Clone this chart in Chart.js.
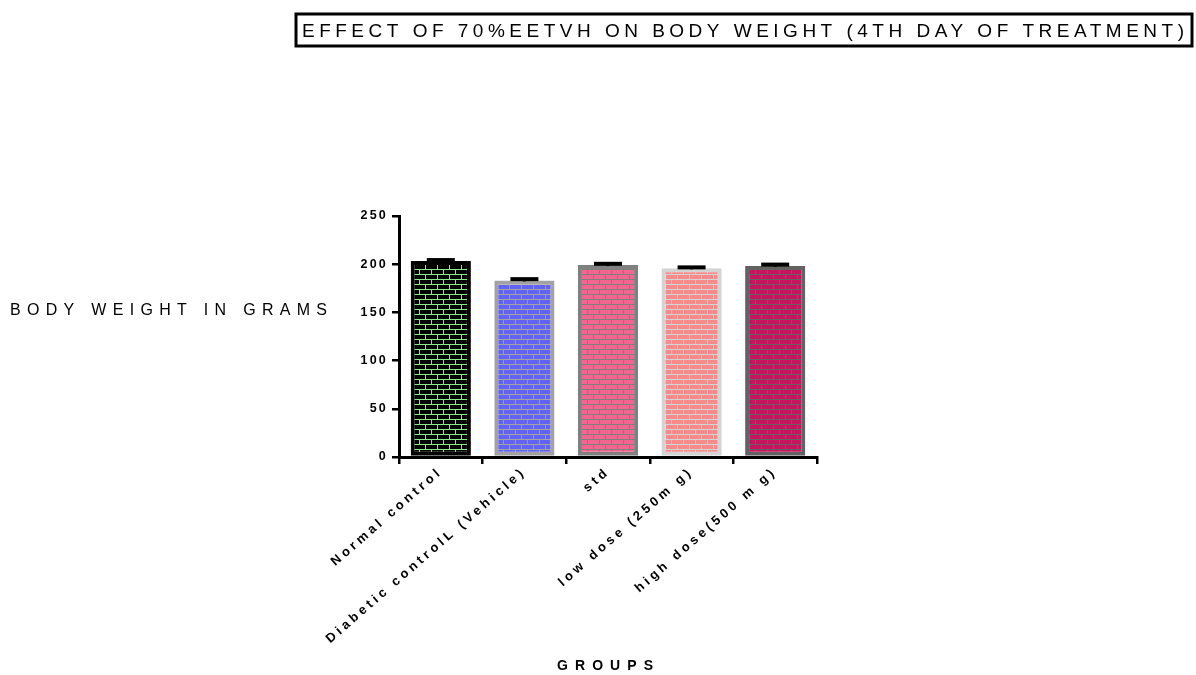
<!DOCTYPE html>
<html>
<head>
<meta charset="utf-8">
<script src="https://cdn.jsdelivr.net/npm/chart.js@4.4.1/dist/chart.umd.min.js"></script>
<style>
 body { margin: 0; background: #fff; }
 canvas { display: block; }
</style>
</head>
<body>
<canvas id="bw-chart" width="1196" height="675"></canvas>
<script>
// Groups and mean body weight (g) on the 4th day, with SEM
const groups = ["Normal control", "Diabetic controlL (Vehicle)", "std", "low dose (250m g)", "high dose(500 m g)"];
const meanWeight = [203.3, 183.2, 199.1, 195.7, 198.1];
const semWeight = [1.0, 1.3, 1.3, 1.0, 1.5];
const yTicks = [0, 50, 100, 150, 200, 250];

// brick colours: [brick, mortar] and bar outline
const brickColors = [["#000000", "#86ec86"], ["#6262f4", "#a2a2a2"], ["#f2658f", "#808080"], ["#f98a8a", "#d4d4d4"], ["#c8145f", "#626262"]];
const outlineColors = ["#000000", "#a2a2a2", "#808080", "#d4d4d4", "#626262"];

const FONT = "'Liberation Sans', Arial, sans-serif";
const NARROW = "'Liberation Sans Narrow', 'Arial Narrow', 'Liberation Sans', sans-serif";

// little brick tile used as a fill pattern
function brickPattern(brick, mortar) {
 const c = document.createElement("canvas");
 c.width = 12;
 c.height = 10;
 const g = c.getContext("2d");
 g.fillStyle = mortar;
 g.fillRect(0, 0, 12, 10);
 g.fillStyle = brick;
 g.fillRect(0, 0, 11, 4);
 g.fillRect(6, 5, 11, 4);
 g.fillRect(-6, 5, 11, 4);
 return g.createPattern(c, "repeat");
}

// text spread out to a given width
function spacedText(ctx, text, font, x, y, width) {
 ctx.save();
 ctx.font = font;
 ctx.letterSpacing = "0px";
 const w = ctx.measureText(text).width;
 ctx.letterSpacing = ((width - w) / (text.length - 1)) + "px";
 ctx.fillStyle = "#000";
 ctx.textAlign = "left";
 ctx.textBaseline = "alphabetic";
 ctx.fillText(text, x, y);
 ctx.restore();
}

const errorBars = {
 id: "errorBars",
 afterDatasetsDraw(chart) {
  const ctx = chart.ctx;
  const y = chart.scales.y;
  chart.getDatasetMeta(0).data.forEach((bar, i) => {
   const top = y.getPixelForValue(meanWeight[i] + semWeight[i]);
   ctx.save();
   ctx.fillStyle = "#000";
   ctx.fillRect(bar.x - 1.5, top, 3, bar.y - top + 1);
   ctx.fillRect(bar.x - 14, top - 2, 28, 4);
   ctx.restore();
  });
 },
};

const decorations = {
 id: "decorations",
 afterLayout(chart) {
  // wider letter spacing on the tick labels
  ["x", "y"].forEach((id) => {
   const s = chart.scales[id];
   if (s._spaced) return;
   const draw = s.drawLabels.bind(s);
   s.drawLabels = (area) => {
    chart.ctx.save();
    chart.ctx.letterSpacing = id === "x" ? "3.6px" : "2.2px";
    draw(area);
    chart.ctx.restore();
   };
   s._spaced = true;
  });
 },
 afterDraw(chart) {
  const ctx = chart.ctx;
  ctx.save();
  ctx.strokeStyle = "#000";
  ctx.lineWidth = 3;
  ctx.strokeRect(296, 14, 896, 32);
  ctx.restore();
  spacedText(ctx, "EFFECT OF 70%EETVH ON BODY WEIGHT (4TH DAY OF TREATMENT)", "19px " + NARROW, 302, 37, 882);
  spacedText(ctx, "BODY WEIGHT IN GRAMS", "16px " + FONT, 10, 315, 317);
  spacedText(ctx, "GROUPS", "bold 14px " + FONT, 557, 670, 96);
 },
};

const chart = new Chart(document.getElementById("bw-chart"), {
 type: "bar",
 data: {
  labels: groups,
  datasets: [{
   data: meanWeight,
   backgroundColor: brickColors.map(([b, m]) => brickPattern(b, m)),
   borderColor: outlineColors,
   borderWidth: 4,
   borderSkipped: false,
   categoryPercentage: 1,
   barPercentage: 0.72,
  }],
 },
 options: {
  responsive: false,
  animation: false,
  layout: { padding: { top: 216, right: 379, bottom: 0, left: 0 } },
  plugins: { legend: { display: false }, tooltip: { enabled: false } },
  scales: {
   x: {
    grid: { drawOnChartArea: false, drawTicks: true, tickLength: 7, color: "#000", lineWidth: 2.5 },
    border: { color: "#000", width: 3 },
    ticks: {
     color: "#000",
     font: { family: FONT, size: 13, weight: "bold" },
     minRotation: 41,
     maxRotation: 41,
     padding: 0,
     autoSkip: false,
    },
    afterFit: (s) => { s.height = 675 - 457; },
   },
   y: {
    min: 0,
    max: 250,
    afterBuildTicks: (s) => { s.ticks = yTicks.map((v) => ({ value: v })); },
    grid: { drawOnChartArea: false, drawTicks: true, tickLength: 7, color: "#000", lineWidth: 2.5 },
    border: { color: "#000", width: 3 },
    ticks: {
     color: "#000",
     font: { family: FONT, size: 12.5, weight: "bold" },
     padding: 4,
    },
    afterFit: (s) => { s.width = 399; },
   },
  },
 },
 plugins: [errorBars, decorations],
});
</script>
</body>
</html>
